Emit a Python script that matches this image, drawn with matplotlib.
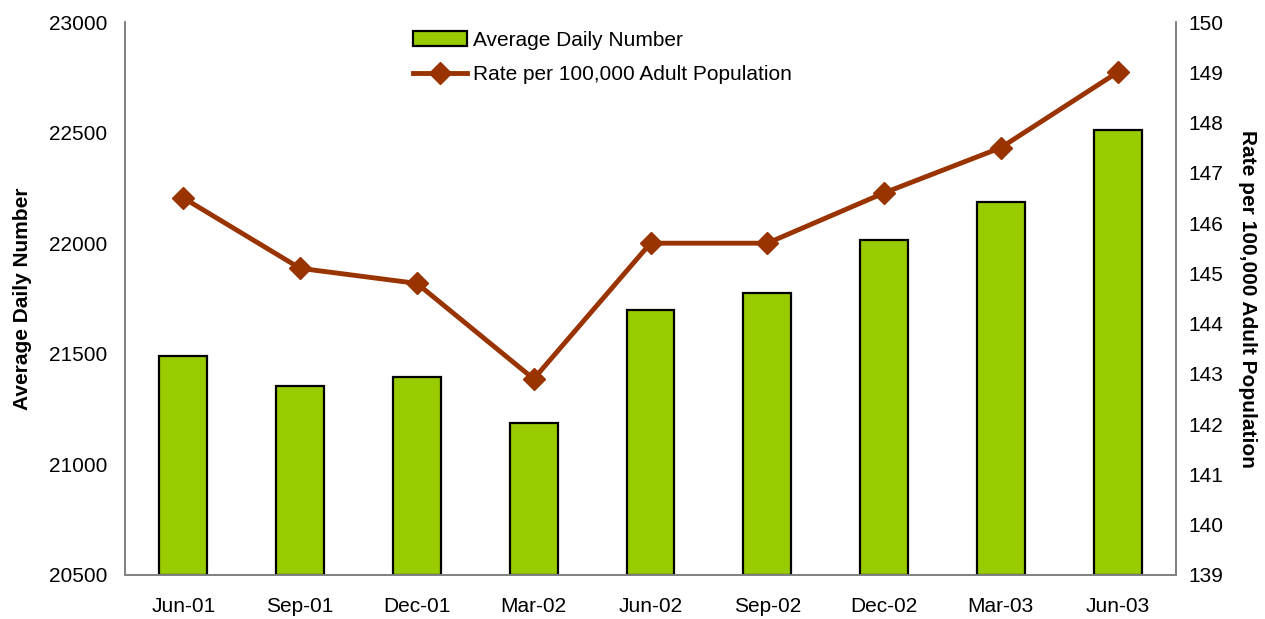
import matplotlib
matplotlib.use("Agg")
import matplotlib.pyplot as plt
import numpy as np

plt.rcParams['font.family'] = ['Liberation Sans', 'DejaVu Sans']

categories = ["Jun-01", "Sep-01", "Dec-01", "Mar-02", "Jun-02", "Sep-02", "Dec-02", "Mar-03", "Jun-03"]
avg_daily = [21490, 21354, 21395, 21187, 21698, 21775, 22014, 22186, 22512]
rate = [146.5, 145.1, 144.8, 142.9, 145.6, 145.6, 146.6, 147.5, 149.0]

W, H = 1265, 619
fig = plt.figure(figsize=(W/100, H/100), dpi=100)
ax = fig.add_axes([125/W, 1-575/H, (1176-125)/W, (575-22)/H])
ax2 = ax.twinx()

x = np.arange(len(categories))
bars = ax.bar(x, [v - 20500 for v in avg_daily], bottom=20500, width=0.41,
              color='#99CC00', edgecolor='black', linewidth=1.6, label='Average Daily Number', zorder=2)
ax.set_ylim(20500, 23000)
ax.set_yticks(np.arange(20500, 23001, 500))
ax.set_xlim(-0.5, len(categories) - 0.5)
ax.set_xticks(x)
ax.set_xticklabels(categories)

line, = ax2.plot(x, rate, color='#993300', linewidth=3.5, marker='D', markersize=11,
                 label='Rate per 100,000 Adult Population', zorder=3)
ax2.set_ylim(139, 150)
ax2.set_yticks(np.arange(139, 151, 1))

for a in (ax, ax2):
    for s in a.spines.values():
        s.set_color('#808080')
        s.set_linewidth(1.2)
    a.spines['top'].set_visible(False)
    a.tick_params(length=0, labelsize=15)
ax.tick_params(axis='x', pad=16)
ax.tick_params(axis='y', pad=13)
ax2.tick_params(axis='y', pad=9)

ax.set_ylabel('Average Daily Number', fontsize=15, fontweight='bold', labelpad=12)
ax2.set_ylabel('Rate per 100,000 Adult Population', fontsize=15, fontweight='bold',
               rotation=270, labelpad=24)

fig.legend([bars, line], ['Average Daily Number', 'Rate per 100,000 Adult Population'],
           loc='upper left', bbox_to_anchor=(394/W, 1-12/H), frameon=False,
           fontsize=15, handlelength=2.6, handletextpad=0.3, labelspacing=0.75)

fig.savefig('out.png', dpi=100)
